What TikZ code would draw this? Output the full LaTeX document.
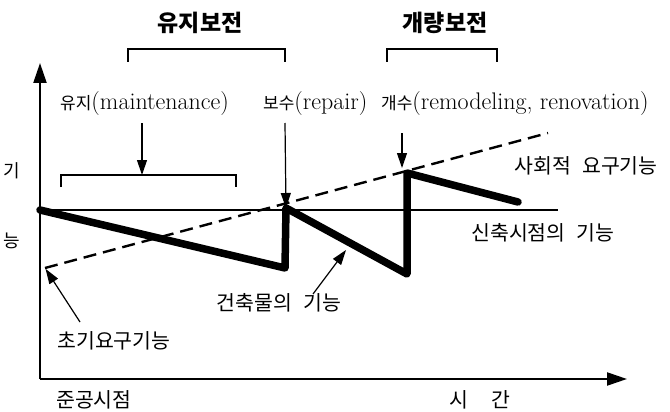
\documentclass[tikz,border=0pt]{standalone}
\usepackage{fontspec}
\newfontfamily\kr{Noto Sans CJK KR}
\usetikzlibrary{arrows.meta}
\newcommand{\kor}[1]{{\kr\fontsize{17}{20}\selectfont #1}}
\newcommand{\ksp}{\hspace{0.55em}}

\begin{document}
\begin{tikzpicture}[x=1pt, y=-1pt, >={Triangle[length=15pt,width=10pt]},
  ko/.style={font=\kr\fontsize{20.5}{24}\selectfont, inner sep=0pt},
  mix/.style={font=\fontsize{24}{27}\selectfont, inner sep=0pt, anchor=base west},
  head/.style={font=\kr\bfseries\fontsize{23}{26}\selectfont, inner sep=0pt},
  axis/.style={line width=2.2pt, -{Triangle[length=20pt,width=13pt]}},
  guide/.style={line width=1.2pt},
  ptr/.style={line width=1.2pt, ->},
  func/.style={line width=7.5pt, line join=round, line cap=round},
  social/.style={line width=2.4pt, dash pattern=on 13pt off 7pt}]
\useasboundingbox (0,0) rectangle (670,412);

% axes
\coordinate (O) at (40,379);
\coordinate (ytop) at (40,63);
\coordinate (xend) at (627,379);
\draw[axis] (O) -- (ytop);
\draw[axis] (O) -- (xend);
\node[ko, font=\kr\fontsize{18}{20}\selectfont] (ki) at (12,171) {기};
\node[ko, font=\kr\fontsize{18}{20}\selectfont] (neung) at (12,241) {능};
\node[ko] (done) at (94,400) {준공시점};
\node[ko] (time) at (480,400) {시\hspace{1.1em}간};

% headings and brackets
\node[head] (maint) at (200,23) {유지보전};
\node[head] (improve) at (445,23) {개량보전};
\draw[guide] (128,62) -- (128,49) -- (285,49) -- (285,62);
\draw[guide] (387,62) -- (387,49) -- (497,49) -- (497,62);

% kinds of work
\node[mix] (upkeep) at (60,110) {\kor{유지}(maintenance)};
\node[mix] (repair) at (263,110) {\kor{보수}(repair)};
\node[mix] (remodel) at (381,110) {\kor{개수}(remodeling, renovation)};
\draw[guide] (61,187) -- (61,175) -- (236,175) -- (236,187);

% function at completion
\coordinate (B0) at (40,210);
\coordinate (newend) at (558,210);
\draw[line width=2pt] (B0) -- (newend);
\node[ko] (newlbl) at (543,233) {신축시점의\ksp 기능};

% social demand
\coordinate (D0) at (45,268);
\coordinate (D1) at (548,133);
\draw[social] (D0) -- (D1);
\node[ko] (sociallbl) at (586,166) {사회적\ksp 요구기능};

% building function
\coordinate (B1) at (285,268);
\coordinate (B2) at (286,208);
\coordinate (B3) at (407,274);
\coordinate (B4) at (407,173);
\coordinate (B5) at (518,202);
\draw[func] (B0) -- (B1) -- (B2) -- (B3) -- (B4) -- (B5);

% pointers
\coordinate (upkeepfrom) at (142,123);
\coordinate (upkeepto) at (142,175);
\coordinate (repairfrom) at (285,123);
\coordinate (remodelfrom) at (402,133);
\coordinate (remodelto) at (402,168);
\draw[ptr] (upkeepfrom) -- (upkeepto);
\draw[ptr] (repairfrom) -- (B2);
\draw[ptr] (remodelfrom) -- (remodelto);

\node[ko] (bldglbl) at (279,303) {건축물의\ksp 기능};
\coordinate (bldgfrom) at (313,294);
\coordinate (bldgto) at (346,250);
\draw[ptr] (bldgfrom) -- (bldgto);

\node[ko] (initlbl) at (114,341) {초기요구기능};
\coordinate (initfrom) at (80,322);
\draw[ptr, shorten >=1pt] (initfrom) -- (D0);
\end{tikzpicture}
\end{document}
